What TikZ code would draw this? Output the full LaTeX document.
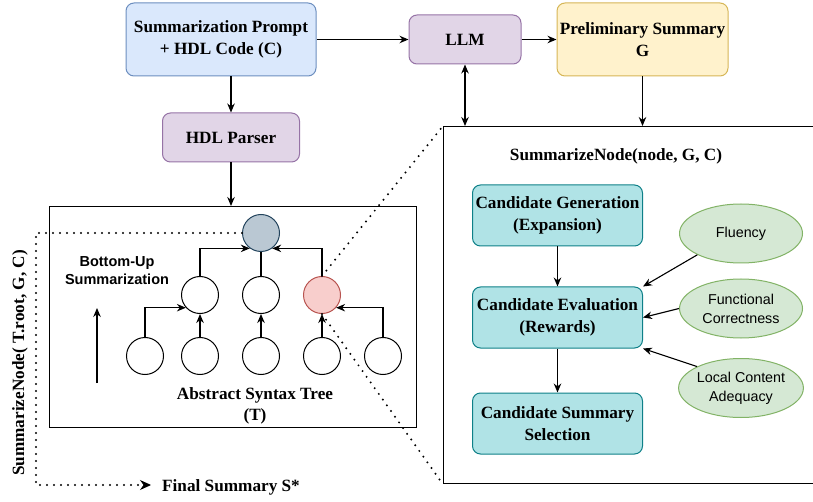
\documentclass[tikz,border=0pt]{standalone}
\usepackage{fontspec}
\setmainfont{Liberation Serif}
\setsansfont{Liberation Sans}
\usetikzlibrary{arrows.meta,shapes.geometric}
\definecolor{bfill}{HTML}{DAE8FC}\definecolor{bstroke}{HTML}{6C8EBF}
\definecolor{pfill}{HTML}{E1D5E7}\definecolor{pstroke}{HTML}{9673A6}
\definecolor{yfill}{HTML}{FFF2CC}\definecolor{ystroke}{HTML}{D6B656}
\definecolor{tfill}{HTML}{B0E3E6}\definecolor{tstroke}{HTML}{0E8088}
\definecolor{gfill}{HTML}{D5E8D4}\definecolor{gstroke}{HTML}{82B366}
\definecolor{rootfill}{HTML}{BAC8D3}\definecolor{rootstroke}{HTML}{23445D}
\definecolor{rfill}{HTML}{F8CECC}\definecolor{rstroke}{HTML}{B85450}
\begin{document}
\begin{tikzpicture}[x=1pt,y=-1pt,
  box/.style={draw, rounded corners=8pt, line width=1pt, align=center, inner sep=0pt,
    font=\fontsize{17.2}{21.5}\selectfont\bfseries},
  arr/.style={-{Stealth[length=9pt,width=7.5pt]}, line width=1.1pt},
  tn/.style={circle, draw, line width=1pt, minimum size=37pt, inner sep=0pt},
  ell/.style={ellipse, draw=gstroke, fill=gfill, line width=1pt, minimum width=123pt,
    minimum height=59pt, inner sep=0pt, align=center, font=\sffamily\fontsize{14.3}{19}\selectfont},
  dotline/.style={line width=2.2pt, dash pattern=on 0pt off 7pt, line cap=round},
  lbl/.style={font=\fontsize{17.2}{21.5}\selectfont\bfseries, align=center, inner sep=1pt}]
\useasboundingbox (0,0) rectangle (813,502);
\clip (0,0) rectangle (813,502);

% top row
\node[box, fill=bfill, draw=bstroke, minimum width=190pt, minimum height=73pt] (prompt) at (221,39.5) {Summarization Prompt\\+ HDL Code (C)};
\node[box, fill=pfill, draw=pstroke, minimum width=112pt, minimum height=49pt] (llm) at (465,39.5) {LLM};
\node[box, fill=yfill, draw=ystroke, minimum width=171pt, minimum height=73pt] (prelim) at (642.5,39.5) {Preliminary Summary\\G};
\node[box, fill=pfill, draw=pstroke, minimum width=137pt, minimum height=49pt] (parser) at (231,137.5) {HDL Parser};

% frames
\node[draw, line width=1.2pt, minimum width=367pt, minimum height=221pt, inner sep=0pt, anchor=north west] (tbox) at (49,206) {};
\node[draw, line width=1.3pt, minimum width=374pt, minimum height=357pt, inner sep=0pt, anchor=north west] (big) at (443,126) {};

\draw[arr] (prompt) -- (llm);
\draw[arr] (llm) -- (prelim);
\draw[arr] (parser.north |- prompt.south) -- (parser.north);
\draw[arr] (parser.south) -- (parser.south |- tbox.north);
\draw[{Stealth[length=9pt,width=7.5pt]}-{Stealth[length=9pt,width=7.5pt]}, line width=1.1pt] (llm.south) -- (llm.south |- big.north);
\draw[arr] (prelim.south) -- (prelim.south |- big.north);

% right panel
\node[lbl] (sn) at (616,156) {SummarizeNode(node, G, C)};
\node[box, fill=tfill, draw=tstroke, minimum width=170pt, minimum height=61pt] (gen) at (557.5,215.5) {Candidate Generation\\(Expansion)};
\node[box, fill=tfill, draw=tstroke, minimum width=170pt, minimum height=61pt] (eval) at (557.5,317.5) {Candidate Evaluation\\(Rewards)};
\node[box, fill=tfill, draw=tstroke, minimum width=170pt, minimum height=61pt] (sel) at (557.5,423.5) {Candidate Summary\\Selection};
\node[ell] (flu) at (741,233.5) {Fluency};
\node[ell] (func) at (741,308.5) {Functional\\Correctness};
\node[ell] (loc) at (741,388) {Local Content\\Adequacy};
\draw[arr] (gen) -- (eval);
\draw[arr] (eval) -- (sel);
\draw[arr] (flu.206) -- (eval.north east);
\draw[arr] (func.west) -- (eval.east);
\draw[arr] (loc.154) -- (eval.south east);

% tree
\node[tn, fill=rootfill, draw=rootstroke] (root) at (261,233) {};
\node[tn] (n2a) at (200,295) {};
\node[tn] (n2b) at (261,295) {};
\node[tn, fill=rfill, draw=rstroke] (n2c) at (322,295) {};
\node[tn] (n3a) at (145,356) {};
\node[tn] (n3b) at (200,356) {};
\node[tn] (n3c) at (261,356) {};
\node[tn] (n3d) at (322,356) {};
\node[tn] (n3e) at (383,356) {};
\draw[arr] (n2a.north) |- (root.234);
\draw[arr] (n2c.north) |- (root.306);
\draw[line width=1.1pt] (n2b.north) -- (root.south);
\draw[arr] (n3a.north) |- (n2a.222);
\draw[arr] (n3e.north) |- (n2c.318);
\draw[arr] (n3b.north) -- (n2a.south);
\draw[arr] (n3c.north) -- (n2b.south);
\draw[arr] (n3d.north) -- (n2c.south);

\node[font=\sffamily\bfseries\fontsize{14.5}{18}\selectfont, align=center] (bu) at (117,271) {Bottom-Up\\Summarization};
\coordinate (ua) at (97,383);
\coordinate (ub) at (97,308);
\draw[arr] (ua) -- (ub);
\node[lbl] (ast) at (255,406) {Abstract Syntax Tree\\(T)};

% dotted
\node[lbl, anchor=west] (final) at (161,487) {Final Summary S*};
\node[lbl, rotate=90] (rl) at (20,363) {SummarizeNode( T.root, G, C)};
\coordinate (c1) at (36,233);
\coordinate (c2) at (36,485);
\coordinate (fa) at (151,485);
\draw[dotline] (root.west) -- (c1) -- (c2) -- (fa);
\draw[-{Stealth[length=11pt,width=10pt]}, line width=1pt] ([xshift=-6pt]fa) -- (fa);
\draw[dotline] (n2c.north) -- (big.north west);
\draw[dotline] (n2c.south) -- (big.south west);
\end{tikzpicture}
\end{document}
